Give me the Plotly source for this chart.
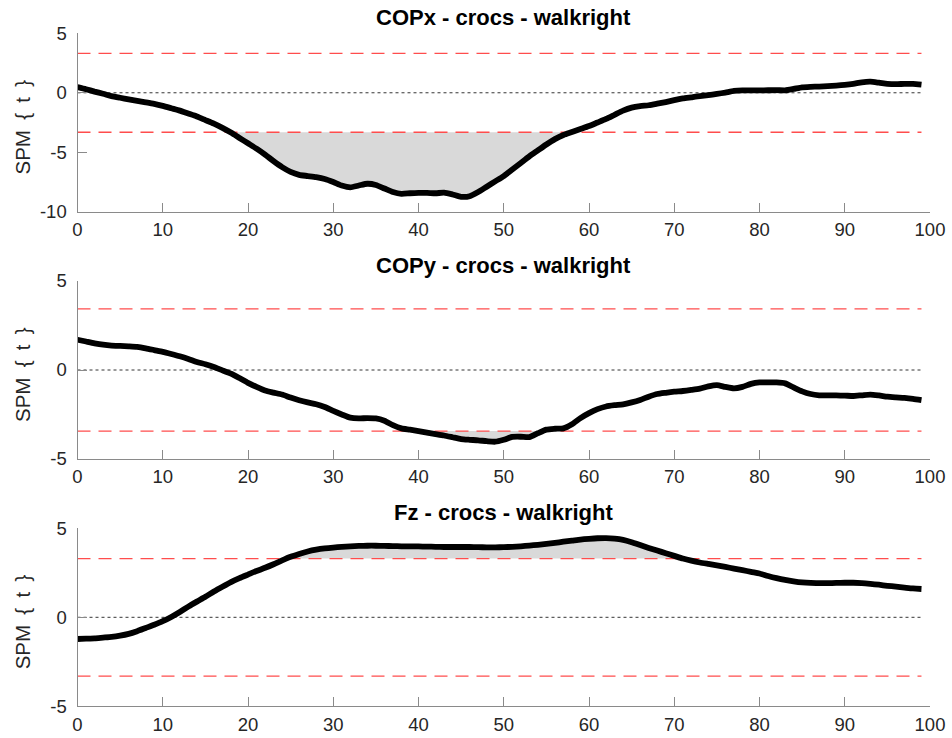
import plotly.graph_objects as go

# Time axis (% of stance) and SPM{t} trajectories
time_pct = list(range(100))

copx_t = [0.48, 0.3, 0.1, -0.08, -0.28, -0.42, -0.55, -0.68, -0.8, -0.93,
          -1.1, -1.3, -1.5, -1.75, -2.0, -2.3, -2.6, -2.95, -3.35, -3.8,
          -4.25, -4.7, -5.2, -5.75, -6.25, -6.65, -6.9, -7.0, -7.1, -7.25,
          -7.5, -7.8, -7.95, -7.8, -7.65, -7.75, -8.05, -8.35, -8.5, -8.45,
          -8.42, -8.42, -8.45, -8.4, -8.55, -8.75, -8.7, -8.35, -7.9, -7.45,
          -7.0, -6.45, -5.9, -5.35, -4.85, -4.35, -3.9, -3.55, -3.3, -3.05,
          -2.8, -2.5, -2.2, -1.85, -1.5, -1.25, -1.12, -1.05, -0.92, -0.78,
          -0.62, -0.48, -0.38, -0.28, -0.2, -0.1, 0.02, 0.15, 0.2, 0.2,
          0.2, 0.21, 0.22, 0.2, 0.32, 0.46, 0.5, 0.52, 0.56, 0.6,
          0.66, 0.75, 0.88, 0.93, 0.85, 0.75, 0.72, 0.75, 0.75, 0.68]

copy_t = [1.7, 1.6, 1.5, 1.42, 1.37, 1.35, 1.33, 1.3, 1.22, 1.12,
          1.02, 0.9, 0.77, 0.62, 0.45, 0.32, 0.17, -0.02, -0.2, -0.45,
          -0.72, -0.95, -1.15, -1.27, -1.38, -1.55, -1.7, -1.82, -1.92, -2.08,
          -2.3, -2.5, -2.68, -2.72, -2.7, -2.72, -2.85, -3.1, -3.28, -3.35,
          -3.43, -3.52, -3.6, -3.68, -3.78, -3.88, -3.92, -3.95, -4.0, -4.03,
          -3.92, -3.76, -3.75, -3.77, -3.55, -3.35, -3.3, -3.28, -3.05, -2.7,
          -2.42, -2.2, -2.05, -1.98, -1.93, -1.82, -1.68, -1.5, -1.35, -1.28,
          -1.22, -1.18, -1.12, -1.05, -0.92, -0.85, -0.95, -1.03, -0.95, -0.78,
          -0.7, -0.7, -0.7, -0.75, -0.98, -1.2, -1.35, -1.42, -1.43, -1.43,
          -1.44, -1.46, -1.42, -1.38, -1.43, -1.5, -1.54, -1.57, -1.62, -1.69]

fz_t = [-1.22, -1.2, -1.18, -1.14, -1.1, -1.03, -0.93, -0.78, -0.6, -0.42,
        -0.22, 0.02, 0.3, 0.6, 0.88, 1.15, 1.45, 1.72, 1.98, 2.2,
        2.4, 2.6, 2.78, 2.98, 3.2, 3.4, 3.56, 3.7, 3.8, 3.87,
        3.92, 3.96, 3.99, 4.01, 4.02, 4.02, 4.01, 4.0, 3.99, 3.98,
        3.98, 3.97, 3.96, 3.95, 3.95, 3.95, 3.95, 3.94, 3.93, 3.93,
        3.94, 3.96, 3.99, 4.03, 4.07, 4.12, 4.18, 4.25, 4.31, 4.37,
        4.41, 4.44, 4.45, 4.42, 4.35, 4.22, 4.06, 3.9, 3.75, 3.6,
        3.45, 3.3, 3.18, 3.08, 3.0, 2.92, 2.83, 2.74, 2.65, 2.55,
        2.46, 2.32, 2.2, 2.1, 2.02, 1.96, 1.93, 1.92, 1.92, 1.93,
        1.94, 1.94, 1.92, 1.88, 1.83, 1.77, 1.72, 1.67, 1.62, 1.59]

# Critical thresholds (alpha = 0.05)
thresholds = [3.32, 3.43, 3.30]

titles = ["COPx - crocs - walkright", "COPy - crocs - walkright", "Fz - crocs - walkright"]
series = [copx_t, copy_t, fz_t]
y_ranges = [[-10, 5], [-5, 5], [-5, 5]]
y_ticks = [[-10, -5, 0, 5], [-5, 0, 5], [-5, 0, 5]]
x_ticks = list(range(0, 101, 10))

W, H = 952, 738
x_px = (77.5, 930.0)
y_px = [(33.3, 211.7), (281.0, 459.0), (528.3, 706.3)]

AXIS_GREY = "#8a8a8a"
TEXT_DARK = "#262626"
FONT = "Liberation Sans, Arial, Helvetica, sans-serif"


def cluster_patches(x, y, thr):
    """Polygons between the curve and +/-thr wherever the curve exceeds it."""
    patches = []
    for sign in (1, -1):
        pts = None
        for i in range(len(x)):
            above = sign * y[i] > thr
            if i > 0:
                prev_above = sign * y[i - 1] > thr
                if above != prev_above:
                    f = (sign * thr - y[i - 1]) / (y[i] - y[i - 1])
                    xc = x[i - 1] + f * (x[i] - x[i - 1])
                    if above:
                        pts = [(xc, sign * thr)]
                    else:
                        pts.append((xc, sign * thr))
                        patches.append(pts)
                        pts = None
            if above:
                if pts is None:
                    pts = [(x[i], sign * thr)]
                pts.append((x[i], y[i]))
        if pts is not None:
            pts.append((x[-1], sign * thr))
            patches.append(pts)
    return patches


fig = go.Figure()
annotations = []

for k in range(3):
    xa = "x" if k == 0 else f"x{k + 1}"
    ya = "y" if k == 0 else f"y{k + 1}"
    thr = thresholds[k]
    y = series[k]
    x0, x1 = time_pct[0], time_pct[-1]

    for poly in cluster_patches(time_pct, y, thr):
        fig.add_trace(go.Scatter(
            x=[p[0] for p in poly] + [poly[0][0]],
            y=[p[1] for p in poly] + [poly[0][1]],
            mode="lines", fill="toself", fillcolor="#d9d9d9",
            line=dict(width=0), hoverinfo="skip", showlegend=False,
            xaxis=xa, yaxis=ya))

    # zero reference
    fig.add_trace(go.Scatter(
        x=[x0, x1], y=[0, 0], mode="lines",
        line=dict(color="black", width=0.8, dash="dot"),
        hoverinfo="skip", showlegend=False, xaxis=xa, yaxis=ya))

    # critical thresholds
    for s in (1, -1):
        fig.add_trace(go.Scatter(
            x=[x0, x1], y=[s * thr, s * thr], mode="lines",
            line=dict(color="#ff4d4d", width=1.3, dash="13px,8px"),
            hoverinfo="skip", showlegend=False, xaxis=xa, yaxis=ya))

    # SPM{t} trajectory
    fig.add_trace(go.Scatter(
        x=time_pct, y=y, mode="lines",
        line=dict(color="black", width=5.8, shape="spline", smoothing=0.6),
        showlegend=False, xaxis=xa, yaxis=ya))

    top, bot = y_px[k]
    dom_y = [1 - bot / H, 1 - top / H]
    axis_common = dict(
        showline=True, linecolor=AXIS_GREY, linewidth=1.2,
        ticks="inside", ticklen=9, tickwidth=1.2, tickcolor=AXIS_GREY,
        showgrid=False, zeroline=False, mirror=False, automargin=False,
        tickfont=dict(family=FONT, size=18.5, color=TEXT_DARK),
    )
    fig.layout[("xaxis" if k == 0 else f"xaxis{k + 1}")] = dict(
        domain=[x_px[0] / W, x_px[1] / W], range=[0, 100],
        tickvals=x_ticks, ticktext=[str(v) for v in x_ticks],
        anchor=ya, ticklabelstandoff=1, **axis_common)
    fig.layout[("yaxis" if k == 0 else f"yaxis{k + 1}")] = dict(
        domain=dom_y, range=y_ranges[k], tickvals=y_ticks[k],
        ticktext=[str(v) for v in y_ticks[k]],
        anchor=xa, ticklabelstandoff=6, **axis_common)

    annotations.append(dict(
        text=f"<b>{titles[k]}</b>", xref="paper", yref="paper",
        x=(x_px[0] + x_px[1]) / 2 / W, y=1 - (top - 16) / H,
        xanchor="center", yanchor="middle", showarrow=False,
        font=dict(family=FONT, size=22, color="black")))
    annotations.append(dict(
        text="SPM\u2002{\u2002t\u2002}", xref="paper", yref="paper",
        x=22 / W, y=1 - ((top + bot) / 2 + 5) / H, textangle=-90,
        xanchor="center", yanchor="middle", showarrow=False,
        font=dict(family=FONT, size=20.5, color=TEXT_DARK)))

fig.update_layout(
    width=W, height=H, margin=dict(l=0, r=0, t=0, b=0, autoexpand=False),
    paper_bgcolor="white", plot_bgcolor="white",
    annotations=annotations,
)

fig.write_html("out.html")
